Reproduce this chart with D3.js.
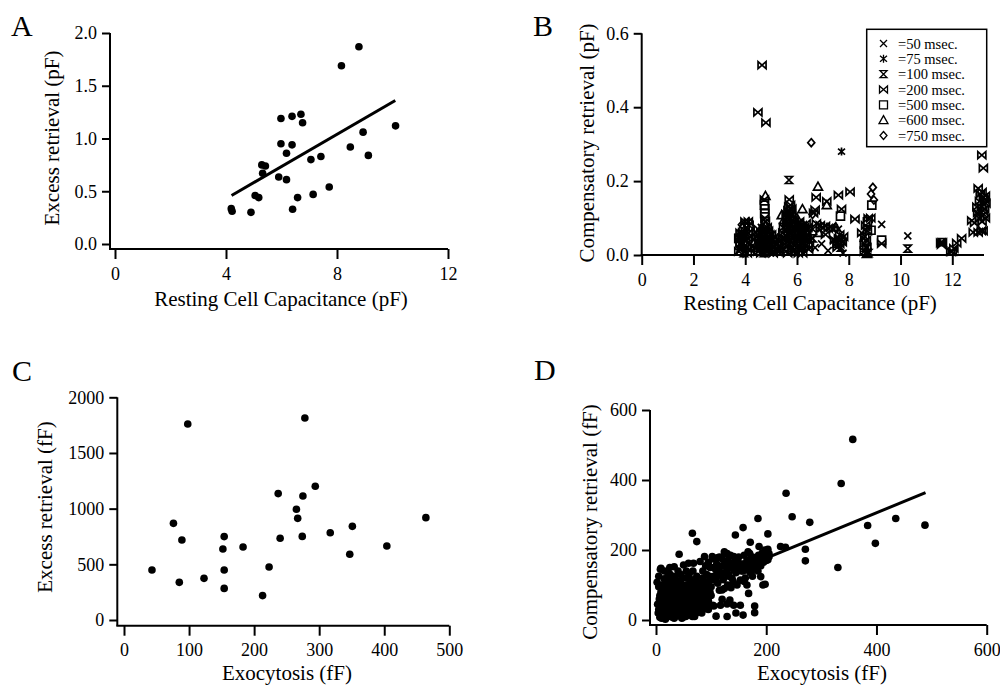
<!DOCTYPE html>
<html>
<head>
<meta charset="utf-8">
<script src="https://cdn.jsdelivr.net/npm/d3@7"></script>
<style>
  body { margin: 0; background: #fff; }
</style>
</head>
<body>
<svg id="fig" width="1000" height="685"></svg>
<script>
// ---- panel A: excess retrieval vs resting capacitance (pF)
const aPoints = [[4.19,0.335],[4.22,0.31],[4.90,0.30],[5.05,0.46],[5.18,0.44],[5.29,0.75],[5.42,0.74],
  [5.32,0.67],[5.90,0.635],[5.98,1.19],[5.98,0.95],[6.18,0.86],[6.18,0.61],[6.38,1.21],[6.38,0.94],
  [6.40,0.33],[6.58,0.44],[6.70,1.23],[6.76,1.15],[7.06,0.80],[7.14,0.47],[7.42,0.83],[7.72,0.54],
  [8.16,1.69],[8.48,0.92],[8.79,1.87],[8.94,1.06],[9.13,0.84],[10.11,1.12]];
const aFit = [[4.2,0.46],[10.1,1.36]];
const aXTicks = [0,4,8,12];
const aYTicks = [0,0.5,1,1.5,2];

// ---- panel B: compensatory retrieval vs resting capacitance, by stimulus length
const b50 = [[3.78,0.015],[3.9,0.035],[4.0,0.01],[4.08,0.055],[4.18,0.03],[4.42,0.035],[4.58,0.005],
  [4.68,0.03],[4.82,0.055],[4.98,0.005],[5.08,0.025],[5.25,0.01],[5.35,0.005],[4.62,0.075],[5.35,0.02],
  [5.48,0.045],[5.58,0.065],[5.68,0.04],[5.82,0.11],[5.88,0.01],[5.7,0.085],[6.02,0.05],[6.12,0.03],
  [6.28,0.045],[6.38,0.07],[6.5,0.02],[6.7,0.02],[7.2,0.012],[7.4,0.04],[7.78,0.005],[6.95,0.03],
  [7.6,0.07],[8.55,0.045],[8.7,0.075],[8.75,0.01],[9.27,0.083],[10.28,0.052],[12.98,0.11],[13.2,0.14]];
const b75 = [[4.55,0.045],[4.85,0.02],[5.62,0.05],[7.6,0.04],[7.72,0.28]];
const b100 = [[3.82,0.045],[3.95,0.005],[4.05,0.075],[4.48,0.03],[4.72,0.005],[4.88,0.05],[5.12,0.01],
  [5.69,0.203],[5.52,0.07],[5.75,0.06],[6.18,0.065],[6.42,0.055],[7.5,0.03],[7.7,0.02],[6.6,0.045],
  [8.75,0.005],[8.65,0.02],[10.28,0.017],[11.6,0.035]];
const b200 = [[4.65,0.514],[4.49,0.386],[4.80,0.358],
  [3.75,0.01],[3.8,0.03],[3.85,0.05],[3.9,0.02],[3.95,0.04],[4.0,0.065],[4.05,0.02],[4.1,0.045],
  [4.15,0.08],[3.99,0.09],[4.12,0.09],[3.8,0.06],
  [3.78,0.045],[3.85,0.015],[3.9,0.06],[3.98,0.025],[4.02,0.04],[4.08,0.005],[4.12,0.06],[4.18,0.015],
  [4.4,0.02],[4.45,0.05],[4.5,0.01],[4.55,0.035],[4.6,0.06],[4.65,0.02],[4.7,0.045],[4.75,0.07],
  [4.8,0.01],[4.85,0.04],[4.9,0.025],[4.95,0.055],[5.0,0.015],[5.05,0.04],[5.1,0.02],[5.2,0.03],
  [5.3,0.015],[4.76,0.1],[4.74,0.15],[4.78,0.09],[4.5,0.07],[4.9,0.065],[5.15,0.05],
  [4.42,0.06],[4.48,0.015],[4.52,0.045],[4.58,0.03],[4.62,0.045],[4.68,0.06],[4.72,0.02],[4.82,0.03],
  [4.88,0.01],[4.92,0.045],[4.98,0.03],[5.02,0.055],[5.08,0.005],[5.12,0.035],[5.18,0.015],[5.25,0.04],
  [4.6,0.005],[4.7,0.07],[4.8,0.065],[4.85,0.075],
  [5.4,0.03],[5.45,0.06],[5.5,0.015],[5.55,0.045],[5.6,0.08],[5.65,0.12],[5.7,0.15],[5.72,0.1],
  [5.75,0.135],[5.8,0.06],[5.85,0.03],[5.9,0.09],[5.95,0.05],[5.6,0.025],[5.78,0.02],
  [5.42,0.045],[5.48,0.075],[5.52,0.03],[5.58,0.01],[5.62,0.09],[5.66,0.06],[5.7,0.11],[5.74,0.04],
  [5.76,0.08],[5.82,0.045],[5.86,0.07],[5.92,0.015],[5.96,0.075],[5.68,0.13],[5.74,0.125],[5.64,0.005],
  [5.62,0.1],[5.78,0.11],[5.85,0.095],[5.58,0.11],[5.8,0.125],[5.66,0.085],
  [6.0,0.03],[6.05,0.06],[6.1,0.015],[6.15,0.045],[6.2,0.08],[6.25,0.03],[6.3,0.06],[6.35,0.085],
  [6.4,0.04],[6.45,0.015],[6.1,0.09],[6.22,0.005],
  [6.02,0.07],[6.08,0.045],[6.12,0.075],[6.18,0.02],[6.22,0.055],[6.28,0.075],[6.32,0.025],[6.38,0.05],
  [6.42,0.075],[6.48,0.04],[6.05,0.005],
  [6.64,0.113],[6.70,0.122],[6.74,0.156],[7.15,0.145],[6.6,0.07],[6.75,0.085],[6.9,0.08],[7.0,0.075],
  [7.1,0.078],[7.2,0.072],[7.3,0.075],[7.4,0.07],[7.1,0.055],[7.45,0.04],[7.55,0.035],[7.6,0.045],
  [7.65,0.03],[7.7,0.04],[7.75,0.035],[7.8,0.05],[7.6,0.162],[7.72,0.124],[8.05,0.171],[7.55,0.02],
  [7.65,0.055],
  [8.24,0.097],[8.5,0.06],[8.6,0.03],[8.62,0.05],[8.65,0.08],[8.7,0.02],[8.75,0.099],[8.85,0.1],
  [8.68,0.04],[8.72,0.065],[8.6,0.01],[9.27,0.031],
  [11.55,0.033],[11.62,0.033],[11.58,0.028],[11.94,0.009],[12.06,0.018],[12.0,0.01],[12.17,0.032],
  [12.36,0.045],[12.75,0.093],[12.86,0.087],[12.81,0.061],[13.0,0.061],[13.12,0.065],[13.19,0.065],
  [12.95,0.13],[13.0,0.18],[13.08,0.165],[13.15,0.17],[13.2,0.155],[13.25,0.15],[13.3,0.14],
  [13.05,0.145],[13.12,0.13],[13.18,0.12],[13.22,0.11],[13.28,0.1],[13.05,0.1],[13.15,0.09],
  [12.98,0.115],[13.14,0.27],[13.2,0.235],[13.28,0.16],[13.25,0.125]];
const b500 = [[3.75,0.045],[3.8,0.035],[4.75,0.112],[4.76,0.125],[4.74,0.135],[7.68,0.105],
  [8.89,0.135],[8.86,0.067],[9.27,0.04],[8.72,0.09]];
const b600 = [[3.88,0.075],[4.78,0.16],[4.72,0.085],[5.41,0.108],[5.5,0.095],[6.21,0.124],[6.0,0.1],
  [6.81,0.185],[6.85,0.06],[7.15,0.135],[7.5,0.075],[8.7,0.003]];
const b750 = [[3.87,0.082],[4.13,0.09],[4.8,0.08],[6.55,0.304],[6.6,0.11],[8.93,0.183],[8.86,0.165],
  [8.97,0.149]];
const bLabels = ["=50 msec.","=75 msec.","=100 msec.","=200 msec.","=500 msec.","=600 msec.","=750 msec."];
const bXTicks = [0,2,4,6,8,10,12];
const bYTicks = [0,0.2,0.4,0.6];

// ---- panel C: excess retrieval vs exocytosis (fF)
const cPoints = [[43,449],[76,868],[85,338],[89,719],[98,1760],[123,374],[152,638],[154,749],[154,449],
  [154,284],[183,656],[213,219],[223,476],[237,1135],[240,734],[265,994],[267,913],[274,751],
  [275,1114],[278,1814],[294,1201],[317,784],[347,590],[351,841],[404,665],[464,919]];
const cXTicks = [0,100,200,300,400,500];
const cYTicks = [0,500,1000,1500,2000];

// ---- panel D: compensatory retrieval vs exocytosis (fF)
const dPoints = [
  [3,45],[4,20],[5,30],[6,60],[7,8],[8,20],[9,80],[10,5],[10,40],[11,100],[12,95],[12,28],[13,55],
  [14,15],[15,70],[15,118],[16,30],[17,110],[17,2],[18,45],[19,88],[20,85],[20,12],[21,20],[22,60],
  [22,130],[23,100],[24,35],[25,75],[25,150],[26,10],[26,130],[27,50],[28,90],[29,25],[30,65],
  [31,120],[32,40],[33,5],[33,152],[34,80],[35,55],[35,124],[36,20],[37,100],[38,70],[39,35],[40,90],
  [41,12],[42,60],[42,188],[43,45],[44,110],[45,25],[46,75],[47,95],[48,40],[49,8],[50,60],[50,157],
  [51,85],[52,30],[53,120],[54,50],[55,15],[56,70],[57,100],[58,40],[59,25],[59,162],[60,80],[61,60],
  [62,110],[63,35],[64,15],[65,90],[66,50],[66,248],[66,10],[67,140],[68,70],[68,162],[69,30],
  [70,105],[71,55],[72,85],[73,20],[74,125],[74,224],[75,65],[76,45],[78,95],[80,30],[80,167],
  [82,75],[84,110],[85,55],[86,40],[88,90],[88,181],[89,32],[90,70],
  [5,95],[7,70],[9,50],[11,65],[13,35],[14,85],[16,50],[18,75],[19,15],[21,105],[23,40],[24,65],
  [26,90],[27,28],[28,55],[30,105],[30,8],[32,75],[34,30],[36,95],[37,45],[38,12],[40,55],[41,110],
  [43,80],[44,20],[46,50],[47,5],[48,100],[50,35],[52,75],[53,95],[54,10],[56,45],[57,120],[58,85],
  [60,55],[61,20],[62,90],[64,65],[65,115],[67,40],[69,85],[70,10],[72,50],[73,110],[75,30],[77,80],
  [79,60],[81,95],[83,20],[85,120],[87,65],[89,100],[91,45],[93,85],[95,55],[97,125],[98,80],[100,115],
  [2,108],[9,148],[5,125],[8,145],[15,140],[28,115],[45,130],[55,140],[60,130],[40,140],
  [92,130],[95,110],[98,150],[100,95],[102,181],[103,175],[105,125],[108,145],[110,160],[111,178],
  [112,105],[115,180],[118,135],[120,155],[122,115],[124,195],[125,190],[128,140],[129,190],
  [130,170],[132,125],[135,185],[138,119],[138,150],[140,110],[141,181],[142,165],[145,135],
  [147,100],[148,175],[150,150],[150,162],[153,114],[155,160],[158,140],[160,185],[162,120],
  [165,170],[168,150],[170,138],[170,190],[172,135],[175,160],[178,175],[180,145],[183,170],
  [186,185],[188,160],[192,175],[195,165],[198,200],[200,180],[203,172],[205,190],
  [85,140],[90,155],[95,165],[105,150],[110,130],[115,150],[120,175],[125,160],[130,145],[135,160],
  [140,150],[145,170],[150,180],[155,140],[160,160],[165,150],[170,170],[175,180],[180,160],
  [185,170],[190,155],[195,185],[200,170],[110,110],[130,100],[160,110],[175,125],[185,140],
  [95,30],[100,70],[103,42],[105,40],[109,11],[115,85],[117,42],[120,59],[120,86],[124,90],[129,46],
  [129,10],[134,57],[136,92],[141,42],[145,20],[153,42],[158,14],[165,100],[168,76],[179,40],
  [179,21],[190,124],[194,100],[198,102],
  [144,243],[158,264],[167,195],[171,222],[185,290],[187,210],[193,192],[203,246],[203,202],
  [205,181],[226,210],[235,208],[236,362],[247,295],[271,202],[271,169],[279,279],[330,150],
  [336,390],[357,516],[384,270],[398,219],[435,290],[488,271]];
const dFit = [[0,47],[489,364]];
const dXTicks = [0,200,400,600];
const dYTicks = [0,200,400,600];

const FONT = '"Liberation Serif", "Times New Roman", "DejaVu Serif", serif';
const svg = d3.select("#fig");

function panel(o) {
  const g = svg.append("g");
  const x = d3.scaleLinear().domain(o.xDomain).range(o.xRange);
  const y = d3.scaleLinear().domain(o.yDomain).range(o.yRange);

  // axis lines drawn by hand, the axes sit a little off the origin
  g.append("line").attr("x1", o.axisX).attr("x2", o.axisX)
    .attr("y1", y(o.yDomain[1])).attr("y2", o.axisY)
    .attr("stroke", "#000").attr("stroke-width", 2);
  g.append("line").attr("x1", o.axisX - 1).attr("x2", o.xEnd)
    .attr("y1", o.axisY).attr("y2", o.axisY)
    .attr("stroke", "#000").attr("stroke-width", 2);

  const yAxis = d3.axisLeft(y).tickValues(o.yTicks).tickFormat(o.yFmt)
    .tickSize(8).tickSizeOuter(0).tickPadding(5);
  const xAxis = d3.axisBottom(x).tickValues(o.xTicks).tickFormat(d3.format("d"))
    .tickSize(10).tickSizeOuter(0).tickPadding(8);

  g.append("g").attr("transform", "translate(" + o.axisX + ",0)").call(yAxis)
    .attr("font-size", 18)
    .call(s => s.select(".domain").remove())
    .call(s => s.selectAll("line").attr("stroke-width", 2));
  g.append("g").attr("transform", "translate(0," + o.axisY + ")").call(xAxis)
    .attr("font-size", 18)
    .call(s => s.select(".domain").remove())
    .call(s => s.selectAll("line").attr("stroke-width", 2));

  g.append("text").attr("x", o.xTitle[0]).attr("y", o.xTitle[1])
    .attr("text-anchor", "middle").attr("font-size", 21).text(o.xLabel);
  g.append("text")
    .attr("transform", "translate(" + o.yTitle[0] + "," + o.yTitle[1] + ") rotate(-90)")
    .attr("text-anchor", "middle").attr("font-size", 21).text(o.yLabel);
  g.append("text").attr("x", o.letter[0]).attr("y", o.letter[1])
    .attr("font-size", 30).text(o.letterText);

  return {g, x, y};
}

function dots(p, data) {
  p.g.append("g").selectAll("circle").data(data).enter().append("circle")
    .attr("cx", d => p.x(d[0])).attr("cy", d => p.y(d[1])).attr("r", 3.8)
    .attr("fill", "#000");
}

function fitLine(p, data) {
  p.g.append("path").datum(data)
    .attr("d", d3.line().x(d => p.x(d[0])).y(d => p.y(d[1])))
    .attr("stroke", "#000").attr("stroke-width", 3).attr("fill", "none");
}

// A
const pA = panel({
  xDomain: [0, 12], xRange: [115, 448], yDomain: [0, 2], yRange: [244, 33],
  axisX: 110, axisY: 249, xEnd: 448, xTicks: aXTicks, yTicks: aYTicks, yFmt: d3.format(".1f"),
  xLabel: "Resting Cell Capacitance (pF)", xTitle: [281, 306],
  yLabel: "Excess retrieval (pF)", yTitle: [59, 138],
  letterText: "A", letter: [11, 36]
});
fitLine(pA, aFit);
dots(pA, aPoints);

// B
const pB = panel({
  xDomain: [0, 12], xRange: [641.7, 952.3], yDomain: [0, 0.6], yRange: [255, 33.3],
  axisX: 641.7, axisY: 255, xEnd: 984, xTicks: bXTicks, yTicks: bYTicks, yFmt: d3.format(".1f"),
  xLabel: "Resting Cell Capacitance (pF)", xTitle: [810, 310],
  yLabel: "Compensatory retrieval (pF)", yTitle: [594, 143],
  letterText: "B", letter: [533, 36]
});

const shapes = {
  cross: "M-3.5,-3.5L3.5,3.5M-3.5,3.5L3.5,-3.5",
  star: "M-3.5,-3L3.5,3M-3.5,3L3.5,-3M0,-4L0,4",
  hourglass: "M-3.5,-3.5L3.5,-3.5L-3.5,3.5L3.5,3.5Z",
  bowtie: "M-4,-3.5L-4,3.5L4,-3.5L4,3.5Z",
  square: "M-4,-4H4V4H-4Z",
  triangle: "M0,-4.5L4.5,3.5H-4.5Z",
  diamond: "M0,-4L3.5,0L0,4L-3.5,0Z"
};
const bSeries = [
  {data: b50, shape: "cross"}, {data: b75, shape: "star"}, {data: b100, shape: "hourglass"},
  {data: b200, shape: "bowtie"}, {data: b500, shape: "square"}, {data: b600, shape: "triangle"},
  {data: b750, shape: "diamond"}
];
const bOrder = [3, 0, 2, 1, 4, 5, 6];
bOrder.forEach(i => {
  const s = bSeries[i];
  pB.g.append("g").selectAll("path").data(s.data).enter().append("path")
    .attr("transform", d => "translate(" + pB.x(d[0]) + "," + pB.y(d[1]) + ")")
    .attr("d", shapes[s.shape])
    .attr("fill", "none").attr("stroke", "#000").attr("stroke-width", 1.7);
});

// legend
const leg = pB.g.append("g");
leg.append("rect").attr("x", 866.7).attr("y", 29.3).attr("width", 120).attr("height", 117.4)
  .attr("fill", "#fff").attr("stroke", "#000").attr("stroke-width", 1.5);
const legY = d3.scalePoint().domain(bLabels).range([43.5, 135.5]);
bSeries.forEach((s, i) => {
  const yy = legY(bLabels[i]);
  leg.append("path").attr("transform", "translate(883.5," + yy + ")")
    .attr("d", shapes[s.shape]).attr("fill", "none").attr("stroke", "#000").attr("stroke-width", 1.3);
  leg.append("text").attr("x", 898).attr("y", yy + 5).attr("font-size", 14.5).text(bLabels[i]);
});

// C
const pC = panel({
  xDomain: [0, 500], xRange: [124, 449.3], yDomain: [0, 2000], yRange: [620, 397.3],
  axisX: 117.3, axisY: 625.7, xEnd: 449.3, xTicks: cXTicks, yTicks: cYTicks, yFmt: d3.format("d"),
  xLabel: "Exocytosis (fF)", xTitle: [287, 680],
  yLabel: "Excess retrieval (fF)", yTitle: [52, 507],
  letterText: "C", letter: [12, 381]
});
dots(pC, cPoints);

// D
const pD = panel({
  xDomain: [0, 600], xRange: [656, 986.7], yDomain: [0, 600], yRange: [620, 410],
  axisX: 650, axisY: 625, xEnd: 986.7, xTicks: dXTicks, yTicks: dYTicks, yFmt: d3.format("d"),
  xLabel: "Exocytosis (fF)", xTitle: [822, 680],
  yLabel: "Compensatory retrieval (fF)", yTitle: [597, 522],
  letterText: "D", letter: [534, 380]
});
fitLine(pD, dFit);
dots(pD, dPoints);

svg.selectAll("text").style("font-family", FONT).attr("fill", "#000");
</script>
</body>
</html>
